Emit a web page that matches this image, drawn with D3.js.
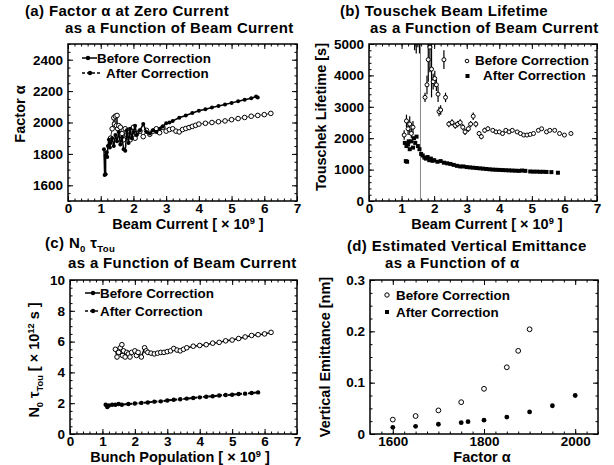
<!DOCTYPE html>
<html>
<head>
<meta charset="utf-8">
<script src="https://cdnjs.cloudflare.com/ajax/libs/d3/7.8.5/d3.min.js"></script>
<style>
body { margin: 0; background: #fff; }
svg text { font-family: "Liberation Sans", Arial, Helvetica, sans-serif; font-weight: bold; fill: #000; }
</style>
</head>
<body>
<svg id="chart" width="614" height="465"></svg>
<script>
// series names shared by all panels
var seriesNames = ["Before Correction", "After Correction"];

// (a) factor alpha vs beam current [x 1e9, alpha]
var aBefore = [[1.30,1900],[1.35,1960],[1.40,2030],[1.42,1990],[1.45,2040],[1.48,1980],[1.50,2045],[1.52,1960],[1.55,1980],[1.60,1970],[1.65,1930],[1.70,1890],[1.75,1960],[1.80,1920],[1.85,1950],[1.90,1890],[1.95,1940],[2.00,1970],[2.05,1900],[2.10,1930],[2.20,1945],[2.30,1910],[2.40,1950],[2.50,1925],[2.60,1945],[2.70,1960],[2.80,1935],[2.90,1970],[3.00,1945],[3.10,1955],[3.20,1960],[3.30,1945],[3.40,1940],[3.50,1955],[3.60,1962],[3.70,1968],[3.80,1975],[3.90,1982],[4.00,1990],[4.20,1995],[4.40,2000],[4.60,2005],[4.80,2010],[5.00,2018],[5.20,2025],[5.40,2032],[5.60,2040],[5.80,2045],[6.00,2050],[6.20,2058]];
var aAfter = [[1.10,1830],[1.12,1665],[1.15,1670],[1.15,1790],[1.18,1810],[1.20,1780],[1.22,1850],[1.25,1890],[1.28,1840],[1.30,1870],[1.35,1900],[1.40,1850],[1.45,1920],[1.50,1880],[1.55,1940],[1.60,1860],[1.65,1905],[1.70,1830],[1.75,1820],[1.80,1950],[1.85,1870],[1.90,1960],[1.95,1900],[2.00,1940],[2.05,1980],[2.10,1920],[2.20,1950],[2.30,1990],[2.40,1940],[2.50,1930],[2.60,1950],[2.70,1940],[2.80,1960],[2.90,1975],[3.00,1995],[3.10,2000],[3.20,2010],[3.40,2030],[3.60,2045],[3.80,2060],[4.00,2075],[4.20,2085],[4.40,2095],[4.60,2105],[4.80,2115],[5.00,2125],[5.20,2135],[5.40,2145],[5.60,2155],[5.75,2165],[5.80,2160]];

// (b) touschek lifetime [current, seconds, error]
var bBefore = [[1.08,2100,150],[1.15,2550,200],[1.20,2300,200],[1.25,2450,250],[1.30,2150,150],[1.35,2350,200],[1.40,5600,800],[1.45,5300,600],[1.50,5800,900],[1.55,5200,500],[1.72,3300,150],[1.78,3700,300],[1.82,4500,700],[1.87,4900,800],[1.92,4200,900],[1.97,3800,250],[2.02,3900,250],[2.07,3700,200],[2.12,3400,250],[2.15,2850,150],[2.20,2900,150],[2.30,4500,300],[2.35,3300,150],[2.45,2450,100],[2.55,2500,100],[2.65,2400,100],[2.72,2450,100],[2.80,2500,100],[2.88,2350,100],[2.95,2200,100],[3.05,2300,100],[3.12,2450,100],[3.20,2700,120],[3.28,2450,100],[3.38,2150,80],[3.45,2050,80],[3.55,2250,80],[3.65,2300,80],[3.80,2250,60],[3.90,2200,60],[4.00,2200,60],[4.10,2150,60],[4.20,2250,60],[4.30,2200,60],[4.40,2250,60],[4.55,2200,60],[4.65,2150,50],[4.75,2100,50],[4.85,2100,50],[4.95,2120,50],[5.05,2150,50],[5.20,2250,50],[5.30,2300,50],[5.45,2200,50],[5.55,2250,50],[5.70,2250,50],[5.85,2150,50],[6.00,2100,50],[6.20,2150,50]];
var bAfter = [[1.10,1850],[1.13,1270],[1.17,1250],[1.15,1750],[1.20,1800],[1.22,1900],[1.25,1650],[1.30,1900],[1.35,1700],[1.38,2000],[1.42,1850],[1.46,2050],[1.50,1750],[1.55,1650],[1.60,1500],[1.65,1450],[1.70,1380],[1.75,1350],[1.80,1400],[1.85,1300],[1.90,1350],[1.95,1280],[2.00,1300],[2.10,1250],[2.20,1270],[2.30,1220],[2.40,1200],[2.50,1180],[2.60,1150],[2.70,1120],[2.80,1100],[2.90,1100],[3.00,1080],[3.10,1070],[3.20,1060],[3.30,1050],[3.40,1040],[3.50,1030],[3.60,1020],[3.70,1010],[3.80,1000],[3.90,995],[4.00,990],[4.10,985],[4.20,980],[4.30,975],[4.40,970],[4.50,965],[4.60,960],[4.70,970],[4.80,960],[4.95,940],[5.05,935],[5.15,935],[5.25,930],[5.35,930],[5.45,925],[5.60,920],[5.80,900]];
var bMarkLine = 1.58;

// (c) N0 * tau vs bunch population
var cBefore = [[1.40,5.5],[1.45,5.0],[1.50,5.3],[1.55,5.6],[1.60,5.8],[1.62,5.1],[1.65,5.4],[1.70,5.0],[1.75,5.3],[1.80,5.2],[1.85,5.0],[1.90,5.3],[2.00,5.4],[2.05,5.1],[2.10,5.3],[2.20,5.0],[2.30,5.6],[2.35,5.4],[2.40,5.3],[2.50,5.25],[2.60,5.2],[2.70,5.25],[2.80,5.3],[2.90,5.3],[3.00,5.35],[3.10,5.4],[3.20,5.55],[3.30,5.45],[3.40,5.4],[3.50,5.5],[3.60,5.6],[3.80,5.7],[4.00,5.75],[4.20,5.8],[4.40,5.9],[4.60,5.95],[4.80,6.05],[5.00,6.1],[5.20,6.2],[5.40,6.3],[5.60,6.4],[5.80,6.45],[6.00,6.5],[6.20,6.6]];
var cAfter = [[1.10,1.9],[1.15,1.75],[1.20,1.85],[1.30,1.9],[1.40,1.9],[1.50,1.95],[1.60,1.9],[1.80,1.95],[2.00,1.98],[2.20,2.02],[2.40,2.05],[2.60,2.1],[2.80,2.12],[3.00,2.18],[3.20,2.22],[3.40,2.26],[3.60,2.3],[3.80,2.34],[4.00,2.38],[4.20,2.42],[4.40,2.45],[4.60,2.5],[4.80,2.53],[5.00,2.55],[5.20,2.6],[5.40,2.62],[5.60,2.66],[5.80,2.7]];

// (d) vertical emittance [alpha, nm]
var dBefore = [[1600,0.028],[1650,0.035],[1700,0.046],[1750,0.062],[1800,0.088],[1850,0.130],[1875,0.162],[1900,0.204]];
var dAfter = [[1600,0.013],[1650,0.015],[1700,0.019],[1750,0.022],[1765,0.024],[1800,0.027],[1850,0.033],[1900,0.043],[1950,0.055],[2000,0.075]];

// tick labels
var currentTicks = [0, 1, 2, 3, 4, 5, 6, 7];
var aAlphaTicks = [1600, 1800, 2000, 2200, 2400];
var bLifeTicks = [0, 1000, 2000, 3000, 4000, 5000];
var cTauTicks = [0, 2, 4, 6, 8, 10];
var dAlphaTicks = [1600, 1800, 2000];
var dEmitTicks = [0, 0.1, 0.2, 0.3];

var svg = d3.select("#chart");

// make a panel group with its scales
function makePanel(box, xDomain, yDomain) {
	var w = box.right - box.left;
	var h = box.bottom - box.top;
	var g = svg.append("g").attr("transform", "translate(" + box.left + "," + box.top + ")");
	var x = d3.scaleLinear().domain(xDomain).range([0, w]);
	var y = d3.scaleLinear().domain(yDomain).range([h, 0]);
	return { g: g, x: x, y: y, w: w, h: h };
}

// inward ticks on all four sides plus frame
function drawFrame(p, xMajor, xStep, yMajor, yStep, xFmt, yFmt, xPad) {
	var xd = p.x.domain(), yd = p.y.domain();
	var xMinor = d3.range(xd[0], xd[1] + xStep / 2, xStep);
	var yMinor = d3.range(yd[0], yd[1] + yStep / 2, yStep);

	function axis(gen, tx, ty, vals, size, fmt, pad) {
		var a = p.g.append("g").attr("transform", "translate(" + tx + "," + ty + ")")
			.call(gen.tickValues(vals).tickSize(size).tickPadding(pad || 3).tickFormat(fmt || ""));
		a.select(".domain").remove();
		a.selectAll("line").attr("stroke", "#000").attr("stroke-width", 1);
		a.selectAll("text").style("font-size", "13.5px").attr("font-family", null);
		return a;
	}
	axis(d3.axisBottom(p.x), 0, p.h, xMajor, -5, xFmt, xPad);
	axis(d3.axisBottom(p.x), 0, p.h, xMinor, -2.5);
	axis(d3.axisTop(p.x), 0, 0, xMajor, -5);
	axis(d3.axisTop(p.x), 0, 0, xMinor, -2.5);
	axis(d3.axisLeft(p.y), 0, 0, yMajor, -5, yFmt, 5);
	axis(d3.axisLeft(p.y), 0, 0, yMinor, -2.5);
	axis(d3.axisRight(p.y), p.w, 0, yMajor, -5);
	axis(d3.axisRight(p.y), p.w, 0, yMinor, -2.5);

	p.g.append("rect")
		.attr("width", p.w)
		.attr("height", p.h)
		.attr("fill", "none")
		.attr("stroke", "#000")
		.attr("stroke-width", 1.5);
}

// text made of parts: [string, shift] where shift is "sub", "sup" or none
function richText(parent, x, y, parts, size, rotate) {
	var t = parent.append("text").style("font-size", size + "px");
	if (rotate) {
		t.attr("transform", "translate(" + x + "," + y + ") rotate(-90)").attr("text-anchor", "middle");
	} else {
		t.attr("x", x).attr("y", y);
	}
	var level = 0;
	parts.forEach(function(pt) {
		var want = pt[1] === "sub" ? 4 : pt[1] === "sup" ? -5 : 0;
		t.append("tspan")
			.attr("dy", want - level)
			.style("font-size", pt[1] ? (size * 0.64) + "px" : null)
			.text(pt[0]);
		level = want;
	});
	return t;
}

// panel titles, two lines each
function title(lines) {
	lines.forEach(function(l) {
		richText(svg, l[0], l[1], l[2], 15).style("letter-spacing", "0.35px");
	});
}

// open circles, filled dots, lines
function drawOpen(p, data, r) {
	p.g.append("g").selectAll("circle").data(data).enter().append("circle")
		.attr("cx", function(d) { return p.x(d[0]); })
		.attr("cy", function(d) { return p.y(d[1]); })
		.attr("r", r)
		.attr("fill", "#fff")
		.attr("stroke", "#000")
		.attr("stroke-width", 1);
}
function drawDots(p, data, r) {
	p.g.append("g").selectAll("circle").data(data).enter().append("circle")
		.attr("cx", function(d) { return p.x(d[0]); })
		.attr("cy", function(d) { return p.y(d[1]); })
		.attr("r", r)
		.attr("fill", "#000");
}
function drawLine(p, data, width, dash) {
	p.g.append("path")
		.datum(data)
		.attr("fill", "none")
		.attr("stroke", "#000")
		.attr("stroke-width", width)
		.attr("stroke-dasharray", dash || null)
		.attr("d", d3.line().x(function(d) { return p.x(d[0]); }).y(function(d) { return p.y(d[1]); }));
}

// legend with a short line and dot, like panels a and c
function lineLegend(x1, x2, dotX, y, textX, label, dash) {
	svg.append("line").attr("x1", x1).attr("x2", x2).attr("y1", y).attr("y2", y)
		.attr("stroke", "#000").attr("stroke-width", 1.5).attr("stroke-dasharray", dash || null);
	svg.append("circle").attr("cx", dotX).attr("cy", y).attr("r", 2.2).attr("fill", "#000");
	svg.append("text").attr("x", textX).attr("y", y + 5).style("font-size", "13.4px").text(label);
}

var beamTitle = [["Beam Current [ \u00d7 10"], ["9", "sup"], [" ]"]];

//--- panel a
var pa = makePanel({ left: 68, right: 297, top: 44, bottom: 201 }, [0, 7], [1500, 2500]);
drawFrame(pa, currentTicks, 0.2, aAlphaTicks, 50, d3.format("d"), d3.format("d"), 2);
drawLine(pa, aBefore, 0.8);
drawOpen(pa, aBefore, 2.3);
drawLine(pa, aAfter, 1.5);
drawDots(pa, aAfter, 2);
title([[25, 16, [["(a) Factor \u03b1 at Zero Current"]]], [65, 33, [["as a Function of Beam Current"]]]]);
lineLegend(82, 97, 88, 58, 97, seriesNames[0]);
lineLegend(82, 101, 90, 73, 106, seriesNames[1], "3,2");
richText(svg, 188, 229, beamTitle, 14.5).attr("text-anchor", "middle");
richText(svg, 25, 114, [["Factor \u03b1"]], 14.5, true);

//--- panel b
var pb = makePanel({ left: 369, right: 597, top: 44, bottom: 201 }, [0, 7], [0, 5000]);
svg.append("clipPath").attr("id", "clipB").append("rect").attr("width", pb.w).attr("height", pb.h);
var bData = pb.g.append("g").attr("clip-path", "url(#clipB)");
bData.append("line")
	.attr("x1", pb.x(bMarkLine)).attr("x2", pb.x(bMarkLine))
	.attr("y1", 0).attr("y2", pb.h)
	.attr("stroke", "#888").attr("stroke-width", 1);
bData.append("g").selectAll("line").data(bBefore).enter().append("line")
	.attr("x1", function(d) { return pb.x(d[0]); })
	.attr("x2", function(d) { return pb.x(d[0]); })
	.attr("y1", function(d) { return pb.y(d[1] - d[2]); })
	.attr("y2", function(d) { return pb.y(d[1] + d[2]); })
	.attr("stroke", "#000").attr("stroke-width", 1.2);
bData.append("g").selectAll("circle").data(bBefore).enter().append("circle")
	.attr("cx", function(d) { return pb.x(d[0]); })
	.attr("cy", function(d) { return pb.y(d[1]); })
	.attr("r", 2)
	.attr("fill", "#fff").attr("stroke", "#000").attr("stroke-width", 1);
bData.append("g").selectAll("rect").data(bAfter).enter().append("rect")
	.attr("x", function(d) { return pb.x(d[0]) - 2; })
	.attr("y", function(d) { return pb.y(d[1]) - 2; })
	.attr("width", 4).attr("height", 4)
	.attr("fill", "#000");
drawFrame(pb, currentTicks, 0.2, bLifeTicks, 200, d3.format("d"), d3.format("d"), 2);
title([[340, 16, [["(b) Touschek Beam Lifetime"]]], [370, 33, [["as a Function of Beam Current"]]]]);
svg.append("circle").attr("cx", 467).attr("cy", 61).attr("r", 1.8).attr("fill", "#fff").attr("stroke", "#000");
svg.append("text").attr("x", 475).attr("y", 65).style("font-size", "13.4px").text(seriesNames[0]);
svg.append("rect").attr("x", 465.5).attr("y", 74).attr("width", 4).attr("height", 4).attr("fill", "#000");
svg.append("text").attr("x", 483).attr("y", 80).style("font-size", "13.4px").text(seriesNames[1]);
richText(svg, 487, 229, beamTitle, 14.5).attr("text-anchor", "middle");
richText(svg, 326, 117, [["Touschek Lifetime [s]"]], 14.5, true);

//--- panel c
var pc = makePanel({ left: 70, right: 297, top: 280, bottom: 434 }, [0, 7], [0, 10]);
drawFrame(pc, currentTicks, 0.2, cTauTicks, 0.5, d3.format("d"), d3.format("d"), 2);
drawLine(pc, cBefore, 1.5);
drawOpen(pc, cBefore, 2.3);
drawLine(pc, cAfter, 2, "4,1");
drawDots(pc, cAfter, 2.2);
title([[45, 248, [["(c) N"], ["0", "sub"], [" \u03c4"], ["Tou", "sub"]]], [68, 268, [["as a Function of Beam Current"]]]]);
lineLegend(85, 100, 93, 293, 100, seriesNames[0]);
lineLegend(85, 100, 93, 311, 100, seriesNames[1], "3,2");
richText(svg, 180, 462, [["Bunch Population [ \u00d7 10"], ["9", "sup"], [" ]"]], 14.5).attr("text-anchor", "middle");
richText(svg, 39, 360, [["N"], ["0", "sub"], [" \u03c4"], ["Tou", "sub"], [" [ \u00d7 10"], ["12", "sup"], [" s ]"]], 14.5, true);

//--- panel d
var pd = makePanel({ left: 370, right: 598, top: 280, bottom: 434 }, [1550, 2050], [0, 0.3]);
drawFrame(pd, dAlphaTicks, 25, dEmitTicks, 0.025, d3.format("d"), function(d) { return d === 0 ? "0" : d3.format(".1f")(d); }, 2);
drawOpen(pd, dBefore, 2.4);
drawDots(pd, dAfter, 2.4);
title([[347, 251, [["(d) Estimated Vertical Emittance"]]], [385, 268, [["as a Function of \u03b1"]]]]);
svg.append("circle").attr("cx", 387).attr("cy", 295).attr("r", 2.2).attr("fill", "#fff").attr("stroke", "#000");
svg.append("text").attr("x", 396).attr("y", 299.5).style("font-size", "13.4px").text(seriesNames[0]);
svg.append("rect").attr("x", 385).attr("y", 310).attr("width", 4).attr("height", 4).attr("fill", "#000");
svg.append("text").attr("x", 396).attr("y", 316.5).style("font-size", "13.4px").text(seriesNames[1]);
richText(svg, 482, 462, [["Factor \u03b1"]], 14.5).attr("text-anchor", "middle");
richText(svg, 330, 357, [["Vertical Emittance [nm]"]], 14.5, true);
</script>
</body>
</html>
